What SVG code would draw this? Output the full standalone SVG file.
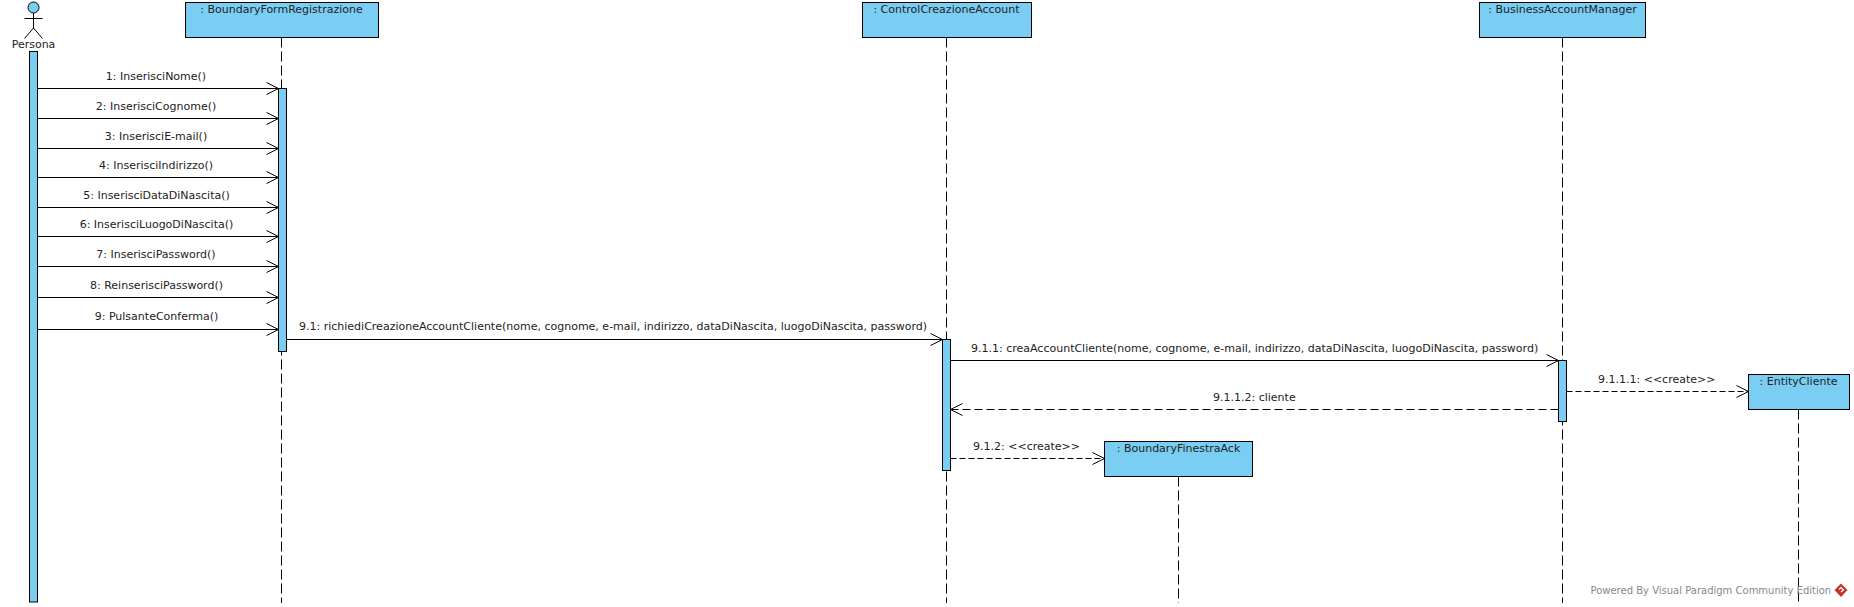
<svg xmlns="http://www.w3.org/2000/svg" width="1854" height="607" viewBox="0 0 1854 607">
<style>
text{font-family:"DejaVu Sans",sans-serif;font-size:11px;fill:#222}
.c{text-anchor:middle}
.box{fill:#7acef4;stroke:#000;stroke-width:1}
.life{stroke:#000;stroke-width:1;stroke-dasharray:10 4;fill:none}
.msg{stroke:#000;stroke-width:1;fill:none;marker-end:url(#open)}
.ret{stroke-dasharray:8 4}
.crt{stroke-dasharray:6 3}
.wm{fill:#888;font-size:10px}
</style>
<defs>
<marker id="open" markerUnits="userSpaceOnUse" markerWidth="14" markerHeight="14" refX="13" refY="7" orient="auto" overflow="visible">
<path d="M1 1L13 7L1 13" fill="none" stroke="#000" stroke-width="1"/>
</marker>
</defs>
<rect width="1854" height="607" fill="#fff"/>
<g id="connectors">
<path class="life" d="M281.5 37.5V603"/>
<path class="life" d="M946.5 37.5V603"/>
<path class="life" d="M1562.5 37.5V603"/>
<path class="life" d="M1178.5 476.5V603"/>
<path class="life" d="M1798.5 409.5V603"/>
<path class="msg" d="M37.5 88.5H278.5"/>
<path class="msg" d="M37.5 118.5H278.5"/>
<path class="msg" d="M37.5 148.5H278.5"/>
<path class="msg" d="M37.5 177.5H278.5"/>
<path class="msg" d="M37.5 207.5H278.5"/>
<path class="msg" d="M37.5 236.5H278.5"/>
<path class="msg" d="M37.5 266.5H278.5"/>
<path class="msg" d="M37.5 297.5H278.5"/>
<path class="msg" d="M37.5 329.5H278.5"/>
<path class="msg" d="M286.5 339.5H942.5"/>
<path class="msg" d="M950.5 360.5H1558.5"/>
<path class="msg crt" d="M1566.5 391.5H1748.5"/>
<path class="msg ret" d="M1558.5 409.5H950.5"/>
<path class="msg crt" d="M950.5 458.5H1104.5"/>
<text class="c" x="156" y="80">1: InserisciNome()</text>
<text class="c" x="156" y="110">2: InserisciCognome()</text>
<text class="c" x="156" y="140">3: InserisciE-mail()</text>
<text class="c" x="156" y="169">4: InserisciIndirizzo()</text>
<text class="c" x="156.5" y="199">5: InserisciDataDiNascita()</text>
<text class="c" x="156.5" y="228">6: InserisciLuogoDiNascita()</text>
<text class="c" x="156" y="258">7: InserisciPassword()</text>
<text class="c" x="156.5" y="289">8: ReinserisciPassword()</text>
<text class="c" x="156.5" y="320">9: PulsanteConferma()</text>
<text x="299" y="330">9.1: richiediCreazioneAccountCliente(nome, cognome, e-mail, indirizzo, dataDiNascita, luogoDiNascita, password)</text>
<text x="971" y="352">9.1.1: creaAccountCliente(nome, cognome, e-mail, indirizzo, dataDiNascita, luogoDiNascita, password)</text>
<text x="1598" y="383">9.1.1.1: &lt;&lt;create&gt;&gt;</text>
<text x="1213" y="400.5">9.1.1.2: cliente</text>
<text x="973" y="450">9.1.2: &lt;&lt;create&gt;&gt;</text>
</g>
<g id="persona">
<circle class="box" cx="33.5" cy="7.5" r="5.5"/>
<path d="M33.5 13V28M24.5 18.5H42.5M24.5 38.5L33.5 28L42.5 38.5" fill="none" stroke="#000"/>
<text class="c" x="33.5" y="48">Persona</text>
<rect class="box" x="29.5" y="51.5" width="8" height="550.5"/>
</g>
<g id="boundaryFormRegistrazione">
<rect class="box" x="185.5" y="2.5" width="193" height="35"/>
<text class="c" x="281.5" y="13">: BoundaryFormRegistrazione</text>
<rect class="box" x="278.5" y="88.5" width="8" height="263"/>
</g>
<g id="controlCreazioneAccount">
<rect class="box" x="862.5" y="2.5" width="169" height="35"/>
<text class="c" x="946.5" y="13">: ControlCreazioneAccount</text>
<rect class="box" x="942.5" y="339.5" width="8" height="131"/>
</g>
<g id="businessAccountManager">
<rect class="box" x="1479.5" y="2.5" width="166" height="35"/>
<text class="c" x="1562.5" y="13">: BusinessAccountManager</text>
<rect class="box" x="1558.5" y="360.5" width="8" height="61"/>
</g>
<g id="boundaryFinestraAck">
<rect class="box" x="1104.5" y="441.5" width="148" height="35"/>
<text class="c" x="1178.5" y="452">: BoundaryFinestraAck</text>
</g>
<g id="entityCliente">
<rect class="box" x="1748.5" y="374.5" width="101" height="35"/>
<text class="c" x="1798.5" y="385">: EntityCliente</text>
</g>
<g id="watermark">
<text class="wm" x="1590.5" y="594">Powered By Visual Paradigm Community Edition</text>
<path d="M1841 583.5L1847.5 590L1841 597L1834.5 590Z" fill="#c8322d"/>
<path d="M1839 589.5L1841 587.5L1843.5 590L1841 592" fill="none" stroke="#fff" stroke-width="1.2"/>
</g>
</svg>
